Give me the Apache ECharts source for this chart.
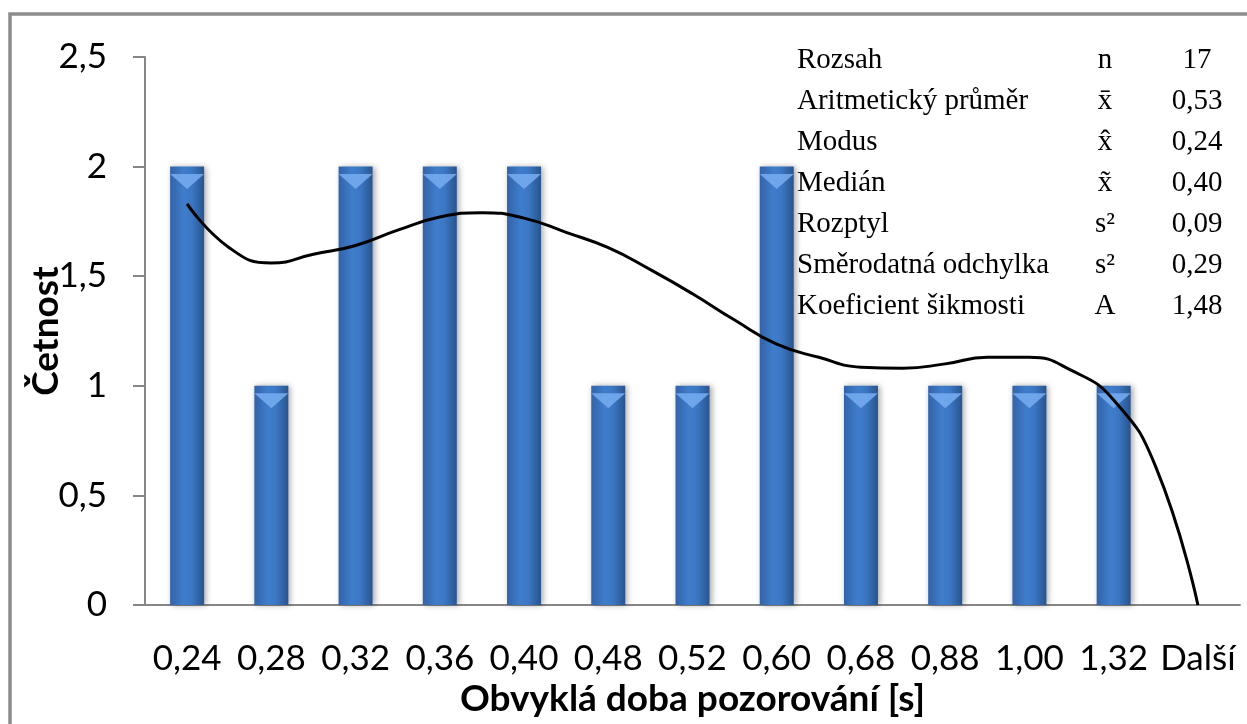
<!DOCTYPE html>
<html>
<head>
<meta charset="utf-8">
<script src="https://cdn.jsdelivr.net/npm/echarts@6/dist/echarts.min.js"></script>
<style>
  html, body { margin: 0; padding: 0; background: #fff; }
  #main { width: 1247px; height: 724px; }
</style>
</head>
<body>
<div id="main"></div>
<script>
// histogram categories + counts
var categories = ['0,24', '0,28', '0,32', '0,36', '0,40', '0,48', '0,52', '0,60', '0,68', '0,88', '1,00', '1,32', 'Další'];
var counts = [2, 1, 2, 2, 2, 1, 1, 2, 1, 1, 1, 1, 0];

// polynomial trend line (x = category position)
var trendX = [0, 0.5, 1, 1.5, 2, 2.5, 3, 3.5, 4, 4.5, 5, 5.5, 6, 6.5, 7, 7.5, 8, 8.5, 9, 9.5, 10, 10.5, 11, 11.5, 12];
var trendY = [1.83, 1.63, 1.56, 1.60, 1.64, 1.71, 1.77, 1.79, 1.765, 1.70, 1.63, 1.53, 1.42, 1.30, 1.19, 1.13, 1.085, 1.08, 1.10, 1.13, 1.13, 1.07, 0.935, 0.63, 0.0];

// stats table
var statNames = ['Rozsah', 'Aritmetický průměr', 'Modus', 'Medián', 'Rozptyl', 'Směrodatná odchylka', 'Koeficient šikmosti'];
var statSymbols = ['n', 'x\u0304', 'x\u0302', 'x\u0303', 's²', 's²', 'A'];
var statValues = ['17', '0,53', '0,24', '0,40', '0,09', '0,29', '1,48'];

var axisFont = 'Lato, "Open Sans", sans-serif';
var tableFont = '"Liberation Serif", "DejaVu Serif", serif';

var graphics = [{
  type: 'rect',
  shape: { x: 10, y: 14, width: 1400, height: 900 },
  style: { fill: 'none', stroke: '#8c8c8c', lineWidth: 3.5 },
  silent: true
}];
statNames.forEach(function (name, i) {
  var y = 60 + i * 41;
  var base = { fill: '#000', font: '29px ' + tableFont, verticalAlign: 'middle' };
  graphics.push({ type: 'text', x: 797, y: y, style: Object.assign({ text: name, align: 'left' }, base) });
  graphics.push({ type: 'text', x: 1105, y: y, style: Object.assign({ text: statSymbols[i], align: 'center' }, base) });
  graphics.push({ type: 'text', x: 1197, y: y, style: Object.assign({ text: statValues[i], align: 'center' }, base) });
});

var barGrad = new echarts.graphic.LinearGradient(0, 0, 1, 0, [
  { offset: 0, color: '#3363a8' },
  { offset: 0.4, color: '#3f7dcc' },
  { offset: 0.65, color: '#3b76c2' },
  { offset: 1, color: '#28548e' }
]);

var myChart = echarts.init(document.getElementById('main'));
var option = {
  animation: false,
  backgroundColor: '#fff',
  graphic: graphics,
  grid: { left: 145, right: 7, top: 57, bottom: 119 },
  xAxis: [{
    type: 'category',
    data: categories,
    name: 'Obvyklá doba pozorování [s]',
    nameLocation: 'middle',
    nameGap: 71,
    nameTextStyle: { fontFamily: axisFont, fontWeight: 'bold', fontSize: 37, color: '#000' },
    axisLine: { lineStyle: { color: '#868686', width: 2 } },
    axisTick: { length: 12, lineStyle: { color: '#868686', width: 2 } },
    axisLabel: { fontFamily: axisFont, fontSize: 35, color: '#000', margin: 36, interval: 0 }
  }, {
    type: 'value',
    min: -0.5,
    max: 12.5,
    show: false
  }],
  yAxis: {
    type: 'value',
    min: 0,
    max: 2.5,
    interval: 0.5,
    name: 'Četnost',
    nameLocation: 'middle',
    nameGap: 80,
    nameMoveOverlap: false,
    nameTextStyle: { fontFamily: axisFont, fontWeight: 'bold', fontSize: 37, color: '#000' },
    axisLine: { show: true, onZero: false, lineStyle: { color: '#868686', width: 2 } },
    axisTick: { show: true, length: 12, lineStyle: { color: '#868686', width: 2 } },
    splitLine: { show: false },
    axisLabel: {
      fontFamily: axisFont, fontSize: 35, color: '#000', margin: 38,
      formatter: function (v) { return String(v).replace('.', ','); }
    }
  },
  series: [{
    type: 'bar',
    data: counts,
    barWidth: 34,
    itemStyle: {
      color: barGrad,
      shadowBlur: 6,
      shadowOffsetX: 2,
      shadowColor: 'rgba(0,0,0,0.35)'
    },
    z: 2
  }, {
    type: 'pictorialBar',
    data: counts.map(function (v) { return v > 0 ? v : '-'; }),
    symbol: 'path://M0,0 L34,0 L17,15 Z',
    symbolSize: [34, 15],
    symbolPosition: 'end',
    symbolOffset: [0, '50%'],
    barGap: '-100%',
    itemStyle: { color: '#74aaee', opacity: 0.9 },
    z: 3
  }, {
    type: 'line',
    xAxisIndex: 1,
    data: trendX.map(function (x, i) { return [x, trendY[i]]; }),
    smooth: true,
    symbol: 'none',
    lineStyle: { color: '#000', width: 3 },
    z: 5
  }]
};
myChart.setOption(option);
window.onresize = myChart.resize;
</script>
</body>
</html>
